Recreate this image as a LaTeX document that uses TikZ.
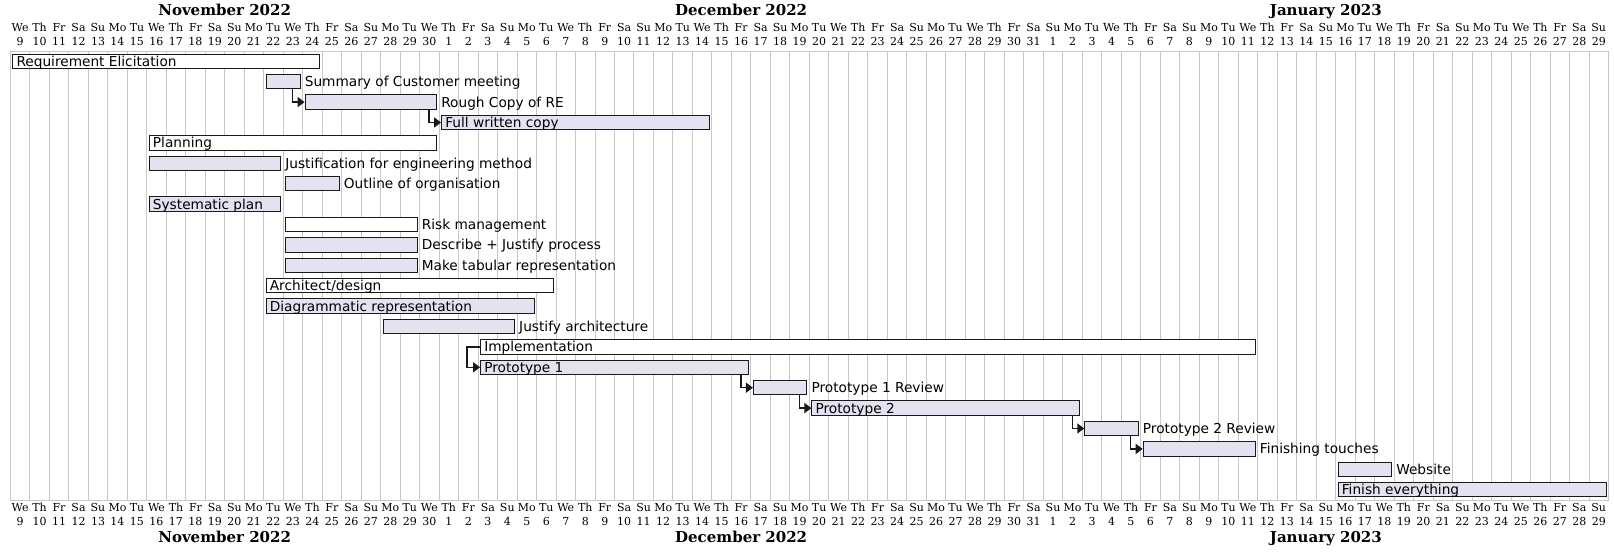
\documentclass[tikz,border=0pt]{standalone}
\usepackage{fontspec}
\setmainfont{DejaVu Sans}
\newfontfamily\hdrfont{DejaVu Serif}
\usetikzlibrary{positioning,arrows.meta,calc}

\definecolor{barfill}{HTML}{E2E2F0}
\definecolor{gridgray}{HTML}{C8C8C8}
\def\dw{19.49}
\def\xo{10.3}
\newcommand\wkday[1]{\ifcase#1 We\or Th\or Fr\or Sa\or Su\or Mo\or Tu\fi}

\tikzset{
  gridline/.style={draw=gridgray, line width=1pt},
  taskbar/.style={draw=black!90, line width=1pt, fill=#1, minimum height=14.5pt, inner sep=0pt, anchor=west},
  tasklabel/.style={font=\fontsize{13.7}{14}\selectfont, inner sep=0pt, anchor=base west},
  daylabel/.style={font=\hdrfont\fontsize{11}{11}\selectfont, inner sep=0pt, anchor=base},
  monthlabel/.style={font=\hdrfont\bfseries\fontsize{15}{15}\selectfont, inner sep=0pt, anchor=base},
  dep/.style={draw=black!90, line width=1.5pt, -{Triangle[length=7pt,width=10pt]}}
}

\begin{document}
\begin{tikzpicture}[x=1pt,y=1pt]
        \useasboundingbox (0,0) rectangle (1614,-554);

        % calendar grid
        \foreach \d in {0,...,82} {
            \draw[gridline] ({\xo+\d*\dw},-51) -- ({\xo+\d*\dw},-500);
        }
        \draw[gridline] (\xo,-51) -- ({\xo+82*\dw},-51);
        \draw[gridline] (\xo,-500) -- ({\xo+82*\dw},-500);

        % day headers, top and bottom
        \foreach \d in {0,...,81} {
            \pgfmathtruncatemacro\wk{mod(\d,7)}
            \pgfmathtruncatemacro\dn{\d<22 ? \d+9 : (\d<53 ? \d-21 : \d-52)}
            \node[daylabel] (wt\d) at ({\xo+(\d+0.5)*\dw},-31) {\wkday{\wk}};
            \node[daylabel] (nt\d) at ({\xo+(\d+0.5)*\dw},-45.7) {\dn};
            \node[daylabel] (wb\d) at ({\xo+(\d+0.5)*\dw},-511.7) {\wkday{\wk}};
            \node[daylabel] (nb\d) at ({\xo+(\d+0.5)*\dw},-525.7) {\dn};
        }

        % months
        \foreach \m/\s/\e/\t in {nov/0/22/November 2022, dec/22/53/December 2022, jan/53/82/January 2023} {
            \node[monthlabel] (\m top) at ({\xo+(\s+\e)/2*\dw},-15) {\t};
            \node[monthlabel] (\m bot) at ({\xo+(\s+\e)/2*\dw},-542.5) {\t};
        }

        % tasks: name/row/first day/last day/fill/label side/text
        \foreach \n/\r/\s/\e/\f/\p/\t in {
            req/1/0/15/white/west/Requirement Elicitation,
            sum/2/13/14/barfill/east/Summary of Customer meeting,
            rough/3/15/21/barfill/east/Rough Copy of RE,
            full/4/22/35/barfill/west/Full written copy,
            plan/5/7/21/white/west/Planning,
            just/6/7/13/barfill/east/Justification for engineering method,
            outl/7/14/16/barfill/east/Outline of organisation,
            sys/8/7/13/barfill/west/Systematic plan,
            risk/9/14/20/white/east/Risk management,
            desc/10/14/20/barfill/east/Describe + Justify process,
            tabr/11/14/20/barfill/east/Make tabular representation,
            arch/12/13/27/white/west/{Architect/design},
            diag/13/13/26/barfill/west/Diagrammatic representation,
            jarch/14/19/25/barfill/east/Justify architecture,
            impl/15/24/63/white/west/Implementation,
            proto1/16/24/37/barfill/west/Prototype 1,
            rev1/17/38/40/barfill/east/Prototype 1 Review,
            proto2/18/41/54/barfill/west/Prototype 2,
            rev2/19/55/57/barfill/east/Prototype 2 Review,
            touch/20/58/63/barfill/east/Finishing touches,
            web/21/68/70/barfill/east/Website,
            finall/22/68/81/barfill/west/Finish everything} {
            \pgfmathsetmacro\yc{-(61.3+(\r-1)*20.4)}
            \node[taskbar=\f, minimum width={(\e-\s+1)*\dw-5}] (\n) at ({\xo+\s*\dw+2},\yc) {};
            \node[tasklabel] (\n lbl) at ([xshift=4pt,yshift=-5pt]\n.\p) {\t};
        }

        % dependencies
        \draw[dep] ([xshift=-8pt]sum.south east) |- (rough.west);
        \draw[dep] ([xshift=-8pt]rough.south east) |- (full.west);
        \draw[dep] (impl.west) -- ++(-13,0) |- (proto1.west);
        \draw[dep] ([xshift=-8pt]proto1.south east) |- (rev1.west);
        \draw[dep] ([xshift=-8pt]rev1.south east) |- (proto2.west);
        \draw[dep] ([xshift=-8pt]proto2.south east) |- (rev2.west);
        \draw[dep] ([xshift=-8pt]rev2.south east) |- (touch.west);
    \end{tikzpicture}
\end{document}
